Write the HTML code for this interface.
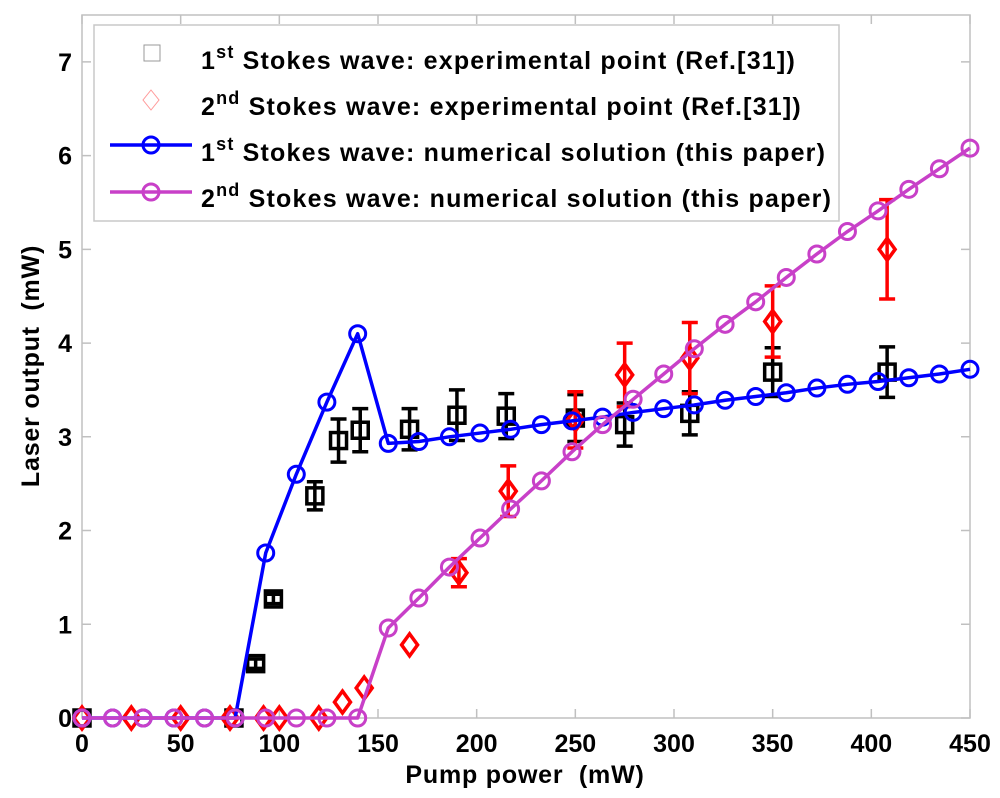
<!DOCTYPE html>
<html><head><meta charset="utf-8"><style>
html,body{margin:0;padding:0;background:#fff;}
svg{display:block;font-family:"Liberation Sans",Arial,sans-serif;font-weight:bold;}
text{white-space:pre;}
</style></head><body>
<svg id="chart" width="1000" height="798" viewBox="0 0 1000 798" xmlns="http://www.w3.org/2000/svg">
<g id="axes"></g>
<g id="series"></g>
<g id="legend">
<rect x="94" y="25" width="745" height="196" fill="#fff" stroke="#c8c8c8" stroke-width="1.5"/>
<g>
<rect x="144" y="45" width="16" height="16" fill="none" stroke="#999" stroke-width="1"/>
<text x="201" y="69" font-size="25" letter-spacing="1.2">1<tspan dy="-11" font-size="18">st</tspan><tspan dy="11"> Stokes wave: experimental point (Ref.[31])</tspan></text>
</g>
<g>
<polygon points="151,90 159,100 151,110 143,100" fill="none" stroke="#f99" stroke-width="1"/>
<text x="201" y="115" font-size="25" letter-spacing="1.2">2<tspan dy="-11" font-size="18">nd</tspan><tspan dy="11"> Stokes wave: experimental point (Ref.[31])</tspan></text>
</g>
<g>
<line x1="110" y1="145" x2="192" y2="145" stroke="#0000ff" stroke-width="3.5"/>
<circle cx="151" cy="145" r="8" fill="none" stroke="#0000ff" stroke-width="3"/>
<text x="201" y="161" font-size="25" letter-spacing="1.2">1<tspan dy="-11" font-size="18">st</tspan><tspan dy="11"> Stokes wave: numerical solution (this paper)</tspan></text>
</g>
<g>
<line x1="110" y1="192" x2="192" y2="192" stroke="#c840c8" stroke-width="3.5"/>
<circle cx="151" cy="192" r="8" fill="none" stroke="#c840c8" stroke-width="3"/>
<text x="201" y="207" font-size="25" letter-spacing="1.2">2<tspan dy="-11" font-size="18">nd</tspan><tspan dy="11"> Stokes wave: numerical solution (this paper)</tspan></text>
</g>
</g>
<text x="525" y="783" font-size="25" letter-spacing="0.8" text-anchor="middle">Pump power  (mW)</text>
<text transform="translate(39,366) rotate(-90)" font-size="25" letter-spacing="0.8" text-anchor="middle">Laser output  (mW)</text>
</svg>
<script>
const xTicks=[0,50,100,150,200,250,300,350,400,450];
const yTicks=[0,1,2,3,4,5,6,7];
const numX=[0,15.5,31,46.6,62.1,77.6,93.1,108.6,124.1,139.7,155.2,170.7,186.2,201.7,217.2,232.8,248.3,263.8,279.3,294.8,310.3,325.9,341.4,356.9,372.4,387.9,403.4,419,434.5,450];
const blue1st=[0,0,0,0,0,0,1.76,2.6,3.37,4.1,2.93,2.95,3.0,3.04,3.08,3.13,3.17,3.21,3.26,3.30,3.34,3.39,3.43,3.47,3.52,3.56,3.59,3.63,3.67,3.72];
const magenta2nd=[0,0,0,0,0,0,0,0,0,0,0.96,1.28,1.61,1.92,2.23,2.53,2.84,3.13,3.40,3.67,3.94,4.20,4.44,4.70,4.95,5.19,5.41,5.64,5.86,6.08];
const exp1X=[0,77,88,97,118,130,141,166,190,215,250,275,308,350,408];
const exp1Y=[0,0,0.58,1.27,2.37,2.96,3.07,3.08,3.23,3.22,3.2,3.13,3.25,3.69,3.69];
const exp1Err=[0,0,0.05,0.05,0.15,0.23,0.23,0.22,0.27,0.24,0.25,0.23,0.23,0.26,0.27];
const exp2X=[0,25,50,75,92,100,120,132,143,166,191,216,250,275,308,350,408];
const exp2Y=[0,0,0,0,0,0,0,0.17,0.32,0.78,1.55,2.42,3.18,3.66,3.84,4.23,5.0];
const exp2Err=[0,0,0,0,0,0,0,0,0,0,0.15,0.27,0.3,0.34,0.38,0.38,0.53];

const L=82,R=970,T=15,B=718,XMAX=450,YMAX=7.5;
const sx=v=>L+v*(R-L)/XMAX;
const sy=v=>B-v*(B-T)/YMAX;
const NS="http://www.w3.org/2000/svg";
function mk(tag,attrs,parent){const e=document.createElementNS(NS,tag);for(const k in attrs)e.setAttribute(k,attrs[k]);parent.appendChild(e);return e;}
const axes=document.getElementById('axes');
const ser=document.getElementById('series');
const box=mk('rect',{x:L,y:T,width:R-L,height:B-T,fill:'none',stroke:'#c0c0c0','stroke-width':1.5},axes);


xTicks.forEach(t=>{
 const x=sx(t);
 const tk=mk('path',{d:`M${x},${B}v-9M${x},${T}v9`,stroke:'#c0c0c0','stroke-width':1.5},axes);
 
 
 const lb=mk('text',{x:x,y:B+34,'font-size':25,'text-anchor':'middle'},axes);
 lb.textContent=t;
 
 
});
yTicks.forEach(t=>{
 const y=sy(t);
 const tk=mk('path',{d:`M${L},${y}h9M${R},${y}h-9`,stroke:'#c0c0c0','stroke-width':1.5},axes);
 
 
 const lb=mk('text',{x:L-10,y:y+9,'font-size':25,'text-anchor':'end'},axes);
 lb.textContent=t;
 
 
});
function errbar(x,y,e,color,parent){
 if(e<=0)return;
 const cx=sx(x),t=sy(y+e),b=sy(y-e);
 const p=mk('path',{d:`M${cx},${t}V${b}M${cx-8},${t}h16M${cx-8},${b}h16`,stroke:color,'stroke-width':3.5,fill:'none'},parent);
 
 
}
const g1=mk('g',{},ser);


exp1X.forEach((x,i)=>{
 errbar(x,exp1Y[i],exp1Err[i],'#000',g1);
 const r=mk('rect',{x:sx(x)-8,y:sy(exp1Y[i])-8,width:16,height:16,fill:'none',stroke:'#000','stroke-width':3.5},g1);
 
 
});
const g2=mk('g',{},ser);


exp2X.forEach((x,i)=>{
 errbar(x,exp2Y[i],exp2Err[i],'#ff0000',g2);
 const cx=sx(x),cy=sy(exp2Y[i]);
 const d=mk('polygon',{points:`${cx},${cy-11} ${cx+8},${cy} ${cx},${cy+11} ${cx-8},${cy}`,fill:'none',stroke:'#ff0000','stroke-width':3.5},g2);
 
 
});
function lineSeries(ys,color,name){
 const g=mk('g',{},ser);
 
 
 const pts=numX.map((x,i)=>sx(x)+','+sy(ys[i])).join(' ');
 const pl=mk('polyline',{points:pts,fill:'none',stroke:color,'stroke-width':3.5,'stroke-linejoin':'round'},g);
 
 
 numX.forEach((x,i)=>{
  const c=mk('circle',{cx:sx(x),cy:sy(ys[i]),r:8,fill:'none',stroke:color,'stroke-width':3},g);
  
  
 });
}
lineSeries(blue1st,'#0000ff','series-1st-numerical');
lineSeries(magenta2nd,'#c840c8','series-2nd-numerical');
</script>
</body></html>
